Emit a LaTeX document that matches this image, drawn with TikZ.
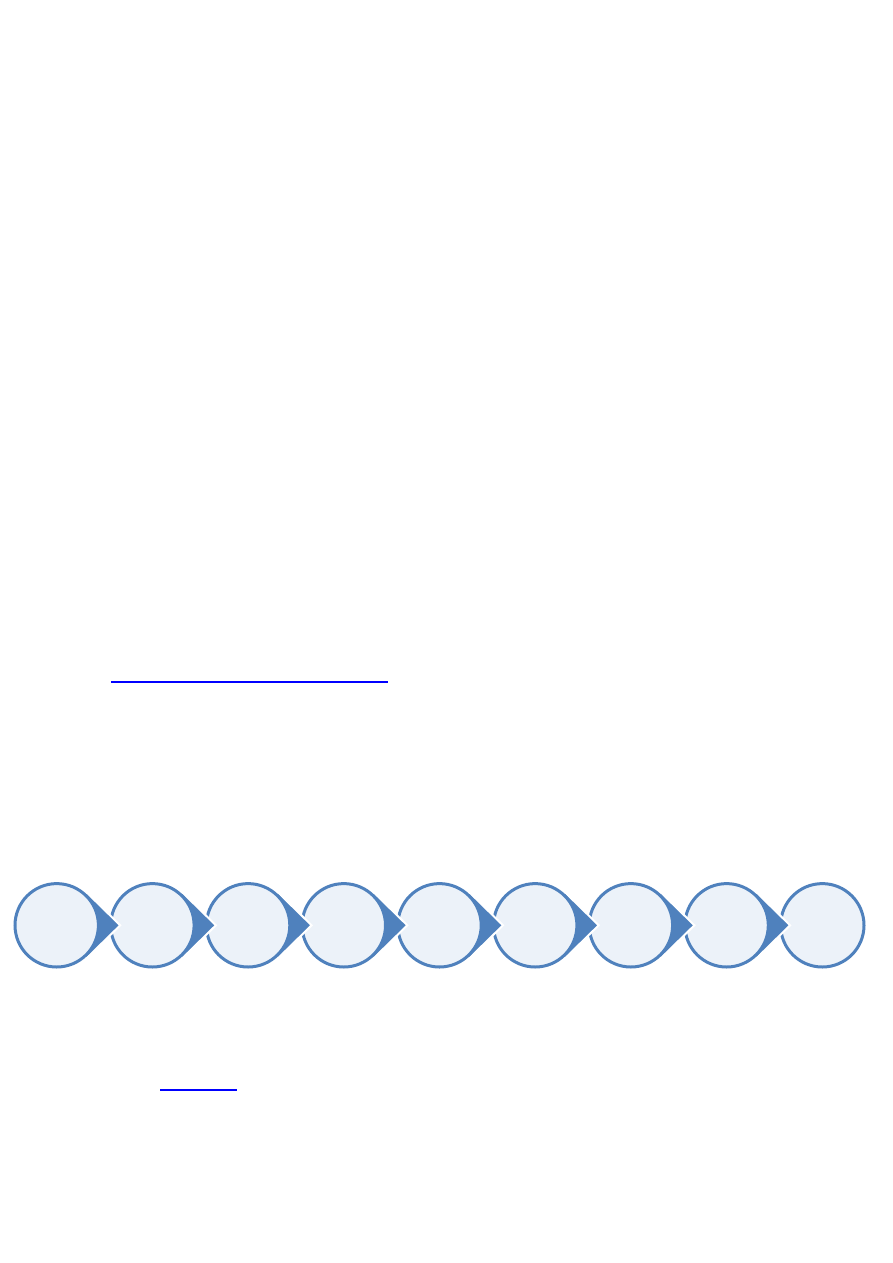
\documentclass[tikz,border=0pt]{standalone}
\usetikzlibrary{calc}
\definecolor{accent}{RGB}{79,129,189}
\definecolor{lightfill}{RGB}{236,242,249}
\definecolor{linkblue}{RGB}{0,0,255}
\begin{document}
\begin{tikzpicture}[x=1pt,y=-1pt,
  circ/.style={circle,draw=accent,line width=3pt,fill=lightfill,minimum size=83.4pt,inner sep=0pt,outer sep=0pt},
  tip/.style={fill=accent,draw=white,line width=2pt,line join=miter},
  link/.style={draw=linkblue,line width=1.3pt}]
\useasboundingbox[fill=white] (0,0) rectangle (893,1263);
% underlines of the two links
\coordinate (l1a) at (111,682);
\coordinate (l1b) at (388,682);
\draw[link] (l1a) -- (l1b);
\coordinate (l2a) at (160,1090);
\coordinate (l2b) at (237,1090);
\draw[link] (l2a) -- (l2b);
% chain of circles with pointed tails
\foreach \i in {9,...,1}{
  \coordinate (p\i) at ({56.7+95.7*(\i-1)},925.3);
  \ifnum\i<9
    \draw[tip] ($(p\i)+(48:44.5)$) -- ($(p\i)+(63.5,0)$) -- ($(p\i)+(-48:44.5)$) -- (p\i) -- cycle;
  \fi
  \node[circ] (c\i) at (p\i) {};
}
\end{tikzpicture}
\end{document}
